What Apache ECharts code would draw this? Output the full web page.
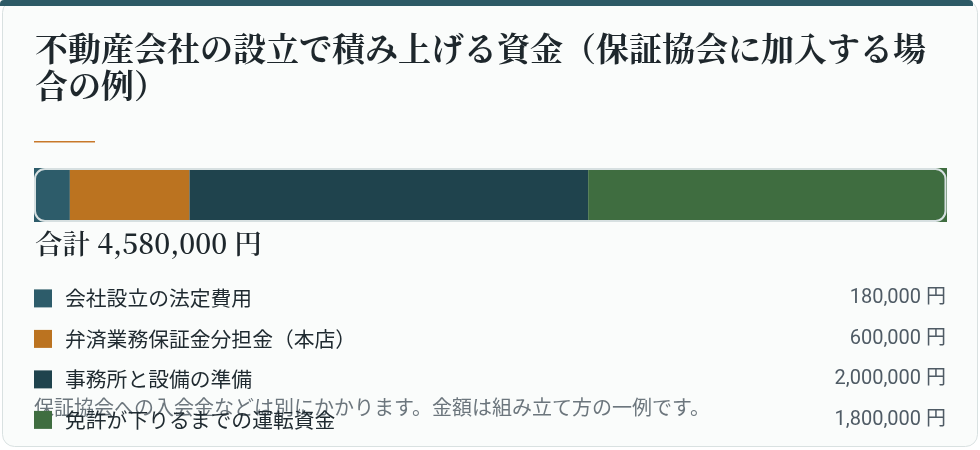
<!DOCTYPE html>
<html>
<head>
<meta charset="utf-8">
<script src="https://cdn.jsdelivr.net/npm/echarts@6/dist/echarts.min.js"></script>
<style>
	html, body { margin: 0; padding: 0; background: #ffffff; }
	#chart { width: 980px; height: 450px; }
</style>
</head>
<body>
<div id="chart"></div>
<script>
// data
const titleText = '不動産会社の設立で積み上げる資金（保証協会に加入する場\n合の例）';
const categories = ['会社設立の法定費用', '弁済業務保証金分担金（本店）', '事務所と設備の準備', '免許が下りるまでの運転資金'];
const amounts = [180000, 600000, 2000000, 1800000];
const colors = ['#2d5c6a', '#bb7320', '#1f434d', '#3f6d40'];
const noteText = '保証協会への入会金などは別にかかります。金額は組み立て方の一例です。';

const fmt = v => v.toLocaleString('en-US') + ' 円';
const total = amounts.reduce((a, b) => a + b, 0);

const sansJP = "'Noto Sans CJK JP', 'Noto Sans', sans-serif";
const serifJP = "'Noto Serif CJK JP', 'Liberation Serif', 'Noto Sans CJK JP', serif";

const chart = echarts.init(document.getElementById('chart'));

chart.setOption({
	animation: false,
	color: colors,
	title: {
		text: titleText,
		left: 35,
		top: 30,
		padding: 0,
		textStyle: {
			fontFamily: serifJP,
			fontSize: 33,
			fontWeight: 'bold',
			lineHeight: 37,
			color: '#1e272c'
		}
	},
	grid: { left: 34, right: 33, top: 168, height: 54 },
	xAxis: { type: 'value', min: 0, max: total, show: false },
	yAxis: { type: 'category', data: ['資金'], show: false },
	legend: {
		orient: 'vertical',
		left: 34,
		top: 288,
		padding: 0,
		icon: 'rect',
		itemWidth: 18,
		itemHeight: 18,
		itemGap: 19.7,
		selectedMode: false,
		data: categories,
		formatter: function(name) {
			const i = categories.indexOf(name);
			return '{n|' + name + '}{v|' + fmt(amounts[i]) + '}';
		},
		textStyle: {
			height: 18,
			rich: {
				n: {
					width: 700,
					padding: [0, 0, 0, 8],
					fontFamily: sansJP,
					fontSize: 20.8,
					lineHeight: 18,
					height: 18,
					color: '#1f2a30'
				},
				v: {
					width: 181,
					align: 'right',
					fontFamily: "Roboto, 'Noto Sans CJK JP', sans-serif",
					fontSize: 20,
					lineHeight: 18,
					height: 18,
					color: '#4f5b65'
				}
			}
		}
	},
	graphic: [
		// card
		{
			type: 'rect', z: -10, silent: true,
			shape: { x: 2.5, y: 0.5, width: 975, height: 446, r: 12 },
			style: { fill: '#fafcfb', stroke: '#d9e1e1', lineWidth: 1 }
		},
		{
			type: 'rect', z: -9, silent: true,
			shape: { x: 0, y: 0, width: 973, height: 6, r: [4, 4, 0, 0] },
			style: { fill: '#2d5a66' }
		},
		// accent line under title
		{
			type: 'rect', z: -9, silent: true,
			shape: { x: 34, y: 141, width: 61, height: 1.5 },
			style: { fill: '#c8782a' }
		},
		// outline of the bar
		{
			type: 'rect', z: 20, silent: true,
			shape: { x: 35, y: 169, width: 910.5, height: 52, r: 10 },
			style: { fill: null, stroke: '#d7e0e1', lineWidth: 2 }
		},
		// total
		{
			type: 'text', silent: true, left: 35, top: 230,
			style: {
				text: '合計 ' + fmt(total),
				font: '600 27.6px ' + serifJP,
				fill: '#1e272c'
			}
		},
		// note
		{
			type: 'text', silent: true, z: -5, left: 34, top: 397,
			style: {
				text: noteText,
				font: '20px ' + sansJP,
				fill: '#6c767d'
			}
		}
	],
	series: categories.map((name, i) => ({
		name: name,
		type: 'bar',
		stack: 'total',
		barWidth: '100%',
		barCategoryGap: 0,
		silent: true,
		data: [amounts[i]]
	}))
});
</script>
</body>
</html>
